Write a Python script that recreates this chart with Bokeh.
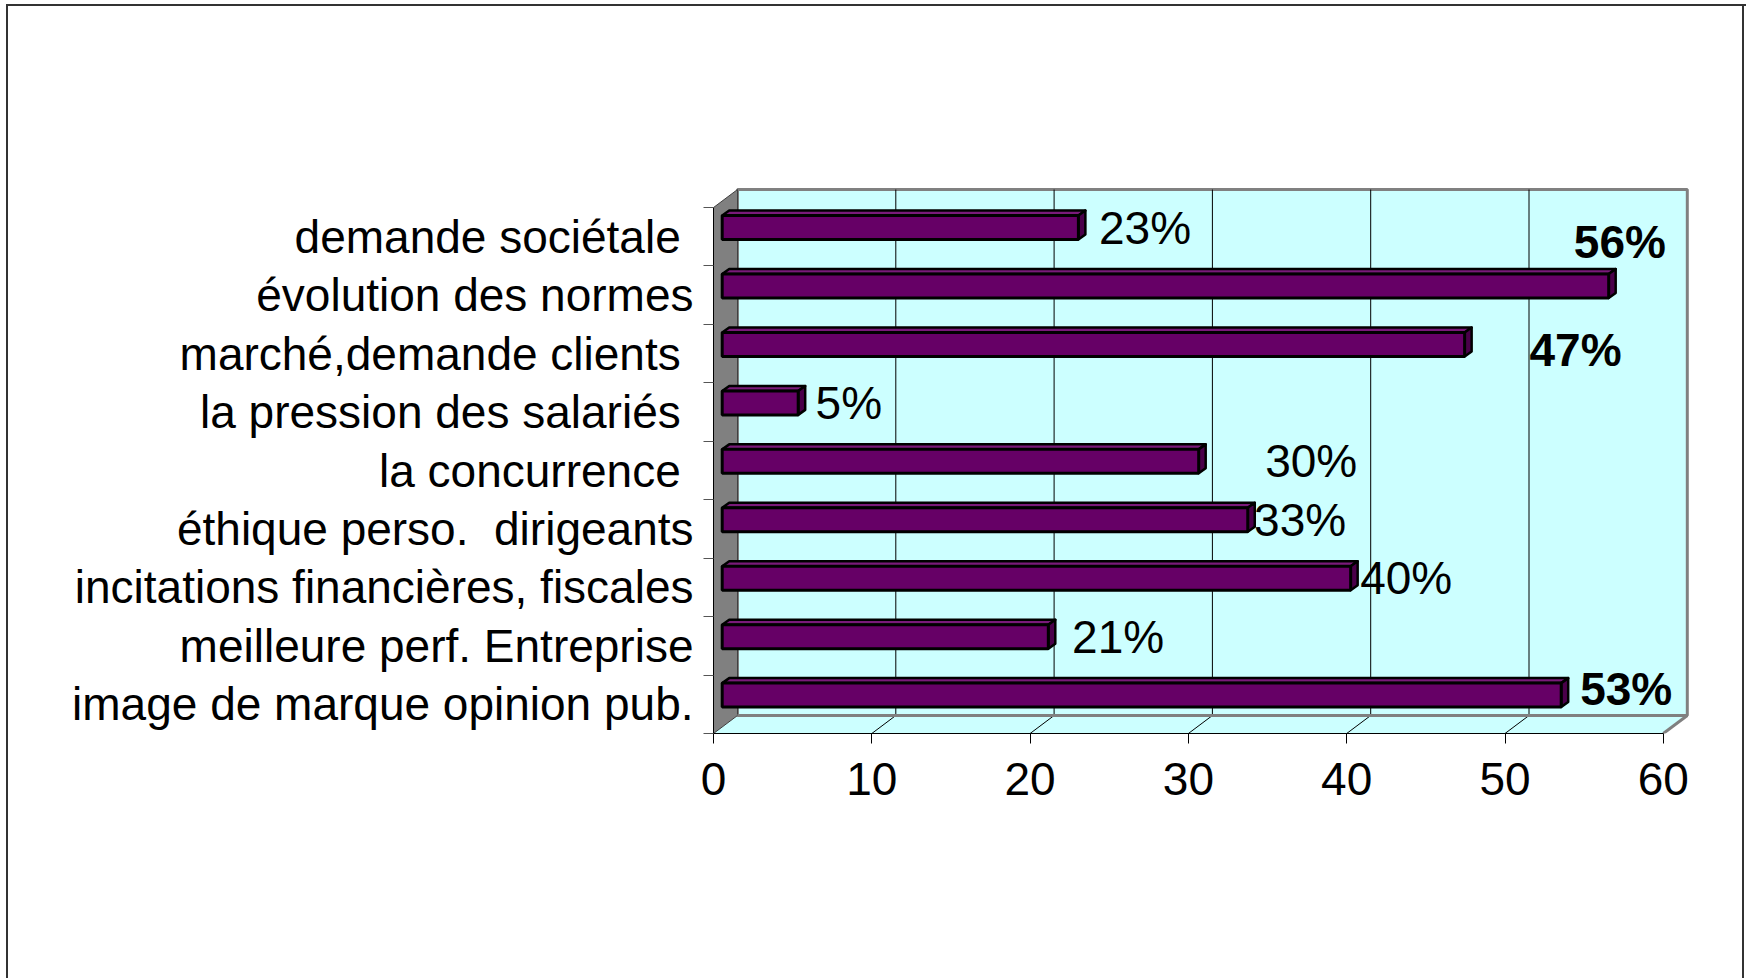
from bokeh.plotting import figure
from bokeh.models import Range1d, FixedTicker, CustomJSTickFormatter, ColumnDataSource
from bokeh.core.properties import value
from bokeh.embed import file_html
from bokeh.resources import INLINE

NB = "\u00a0"  # keeps the spacing of the original labels visible in SVG

# ---------------- data (top to bottom as shown) ----------------
categories = [
    "demande sociétale" + NB,
    "évolution des normes",
    "marché,demande clients" + NB,
    "la pression des salariés" + NB,
    "la concurrence" + NB,
    "éthique perso." + NB + " dirigeants",
    "incitations financières, fiscales",
    "meilleure perf. Entreprise",
    "image de marque opinion pub.",
]
values = [22.5, 56, 46.9, 4.8, 30.1, 33.2, 39.7, 20.6, 53]
labels = ["23%", "56%", "47%", "5%", "30%", "33%", "40%", "21%", "53%"]
bold = [False, True, True, False, False, False, False, False, True]
x_ticks = [0, 10, 20, 30, 40, 50, 60]

# label placement (offsets from bar end, in axis units), as in the picture
label_dx = [1.3, -2.2, 4.1, 1.1, 4.2, 0.4, 0.6, 1.5, 1.2]
label_dy = [0.0, 0.75, -0.1, 0.0, 0.0, 0.0, 0.0, 0.0, 0.1]

# ---------------- layout constants ----------------
FONT = "Liberation Sans"
PX = 15.83          # px per x unit
PY = 58.44          # px per category
DX, DY = 24 / PX, 18 / PY        # wall depth
FX, FY = 0.55, 0.157             # bar front offset
EX, EY = 7 / PX, 5 / PY          # bar depth
H = 0.41                          # bar height
XMAX = 60
N = len(categories)

W, HT = 1746, 978
ml, mr, mt, mb = 713, 46, 185, 245
frame_w = W - ml - mr
frame_h = HT - mt - mb

p = figure(width=W, height=HT, output_backend="svg", toolbar_location=None,
           x_range=Range1d(0, frame_w / PX), y_range=Range1d(0, frame_h / PY),
           min_border_left=ml, min_border_right=mr, min_border_top=mt, min_border_bottom=mb,
           background_fill_color="white", border_fill_color=None)
p.outline_line_color = None
p.xgrid.visible = False
p.ygrid.visible = False
p.styles = {"box-shadow": ("inset 6px 4px 0 0 white, inset 8px 6px 0 0 #333333, "
                           "inset -2px 0 0 0 white, inset -4px 0 0 0 #333333")}

# ---------------- walls ----------------
wall = "#CCFFFF"
gray = "#808080"
# floor
p.patch([0, XMAX, XMAX + DX, DX], [0, 0, DY, DY], fill_color=wall, line_color=None)
# back wall
p.patch([DX, XMAX + DX, XMAX + DX, DX], [DY, DY, N + DY, N + DY],
        fill_color=wall, line_color=gray, line_width=3)
# side wall
p.patch([0, DX, DX, 0], [0, DY, N + DY, N], fill_color=gray, line_color="#404040", line_width=1)
# gridlines on back wall and floor
for t in x_ticks[1:-1]:
    p.line([t + DX, t + DX], [DY, N + DY], line_color="black", line_width=1)
    p.line([t, t + DX], [0, DY], line_color="black", line_width=1)
# floor right edge / back edge
p.line([XMAX, XMAX + DX], [0, DY], line_color=gray, line_width=3)
p.line([DX, XMAX + DX], [DY, DY], line_color=gray, line_width=3)

# ---------------- bars ----------------
purple = "#660066"
for i, v in enumerate(values):
    k = N - 1 - i
    b = k + 0.5 + FY - H / 2
    t = b + H
    l, r = FX, FX + v
    # top face
    p.patch([l, r, r + EX, l + EX], [t, t, t + EY, t + EY],
            fill_color="#7A1A7A", line_color="black", line_width=2.5, line_join="round")
    # end face
    p.patch([r, r + EX, r + EX, r], [b, b + EY, t + EY, t],
            fill_color="#4A004A", line_color="black", line_width=2.5, line_join="round")
    # front face
    p.quad(left=l, right=r, bottom=b, top=t,
           fill_color=purple, line_color="black", line_width=3)

# ---------------- data labels ----------------
ys = [N - 1 - i + 0.5 + FY + label_dy[i] for i in range(N)]
xs = [FX + values[i] + label_dx[i] for i in range(N)]
src = ColumnDataSource(dict(x=xs, y=ys, text=labels,
                            style=["bold" if b_ else "normal" for b_ in bold]))
p.text(x="x", y="y", text="text", source=src, text_font=value(FONT),
       text_font_size="46px", text_font_style="style", text_color="black",
       text_align="left", text_baseline="middle")

# ---------------- axes ----------------
xa = p.xaxis[0]
xa.ticker = FixedTicker(ticks=x_ticks)
xa.bounds = (0, XMAX)
xa.axis_line_color = "black"
xa.axis_line_width = 1
xa.major_tick_out = 10
xa.major_tick_in = 0
xa.major_tick_line_color = "black"
xa.minor_tick_line_color = None
xa.major_label_text_font = FONT
xa.major_label_text_font_size = "46px"
xa.major_label_text_color = "black"
xa.major_label_standoff = 19

ya = p.yaxis[0]
ya.ticker = FixedTicker(ticks=[k + 0.5 for k in range(N)], minor_ticks=list(range(N + 1)))
ya.formatter = CustomJSTickFormatter(args=dict(labels=categories[::-1]),
                                     code="return labels[Math.round(tick - 0.5)];")
ya.bounds = (0, N)
ya.axis_line_color = "black"
ya.axis_line_width = 1
ya.major_tick_line_color = None
ya.major_tick_out = 0
ya.major_tick_in = 0
ya.minor_tick_out = 10
ya.minor_tick_in = 0
ya.minor_tick_line_color = "#555555"
ya.major_label_text_font = FONT
ya.major_label_text_font_size = "46px"
ya.major_label_text_color = "black"
ya.major_label_standoff = 10

open("out.html", "w").write(file_html(p, INLINE))
